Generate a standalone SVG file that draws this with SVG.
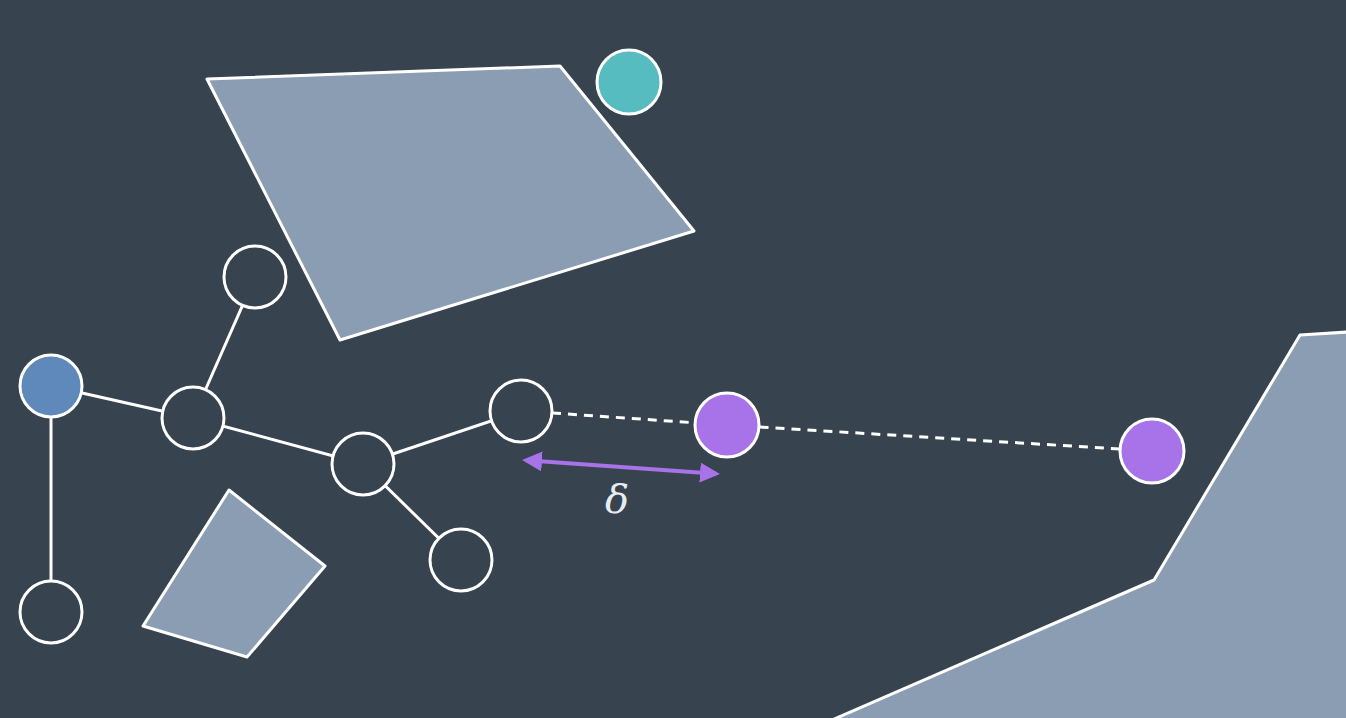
<svg xmlns="http://www.w3.org/2000/svg" width="1346" height="718" viewBox="0 0 1346 718">
<style>
.obs{fill:#8a9db3;stroke:#fff;stroke-width:3;stroke-linejoin:round}
.node{fill:#37434f;stroke:#fff;stroke-width:3}
.edge{stroke:#fff;stroke-width:3;fill:none}
.dash{stroke:#fff;stroke-width:3;stroke-dasharray:9 7;fill:none}
.purple{fill:#a872e8}
</style>
<defs>
<marker id="ah" viewBox="0 0 10 10" refX="8" refY="5" markerWidth="5" markerHeight="5" orient="auto-start-reverse" markerUnits="strokeWidth">
<path d="M0,0 L10,5 L0,10 Z" fill="#a872e8"/>
</marker>
</defs>
<rect width="1346" height="718" fill="#37434f"/>
<g id="obstacles">
<polygon class="obs" points="207,79 560,66 694,231 340,340"/>
<polygon class="obs" points="229,490 325,566 247,657 143,626"/>
<polygon class="obs" points="832,720 1154,580 1300,335 1348,332 1348,720"/>
</g>
<g id="connectors">
<line class="edge" x1="51" y1="386" x2="193" y2="418"/>
<line class="edge" x1="51" y1="386" x2="51" y2="612"/>
<line class="edge" x1="193" y1="418" x2="255" y2="277"/>
<line class="edge" x1="193" y1="418" x2="363" y2="464"/>
<line class="edge" x1="363" y1="464" x2="521" y2="411"/>
<line class="edge" x1="363" y1="464" x2="461" y2="560"/>
<polyline class="dash" points="552,413 727,425 1152,451"/>
<line x1="526" y1="460.3" x2="716" y2="473.7" stroke="#a872e8" stroke-width="4" marker-start="url(#ah)" marker-end="url(#ah)"/>
</g>
<g id="n-start"><circle cx="51" cy="386" r="31" fill="#5f88bb" stroke="#fff" stroke-width="3"/></g>
<g id="n1"><circle class="node" cx="255" cy="277" r="31"/></g>
<g id="n2"><circle class="node" cx="193" cy="418" r="31"/></g>
<g id="n3"><circle class="node" cx="363" cy="464" r="31"/></g>
<g id="n4"><circle class="node" cx="521" cy="411" r="31"/></g>
<g id="n5"><circle class="node" cx="461" cy="560" r="31"/></g>
<g id="n6"><circle class="node" cx="51" cy="612" r="31"/></g>
<g id="n-goal"><circle cx="629" cy="82" r="32" fill="#56bcbf" stroke="#fff" stroke-width="3"/></g>
<g id="n-new"><circle class="purple" cx="727" cy="425" r="32" stroke="#fff" stroke-width="3"/></g>
<g id="n-rand"><circle class="purple" cx="1152" cy="451" r="32" stroke="#fff" stroke-width="3"/></g>
<text x="617" y="513" font-family="DejaVu Serif, serif" font-style="italic" font-size="40" fill="#e8ecf0" text-anchor="middle">δ</text>
</svg>
